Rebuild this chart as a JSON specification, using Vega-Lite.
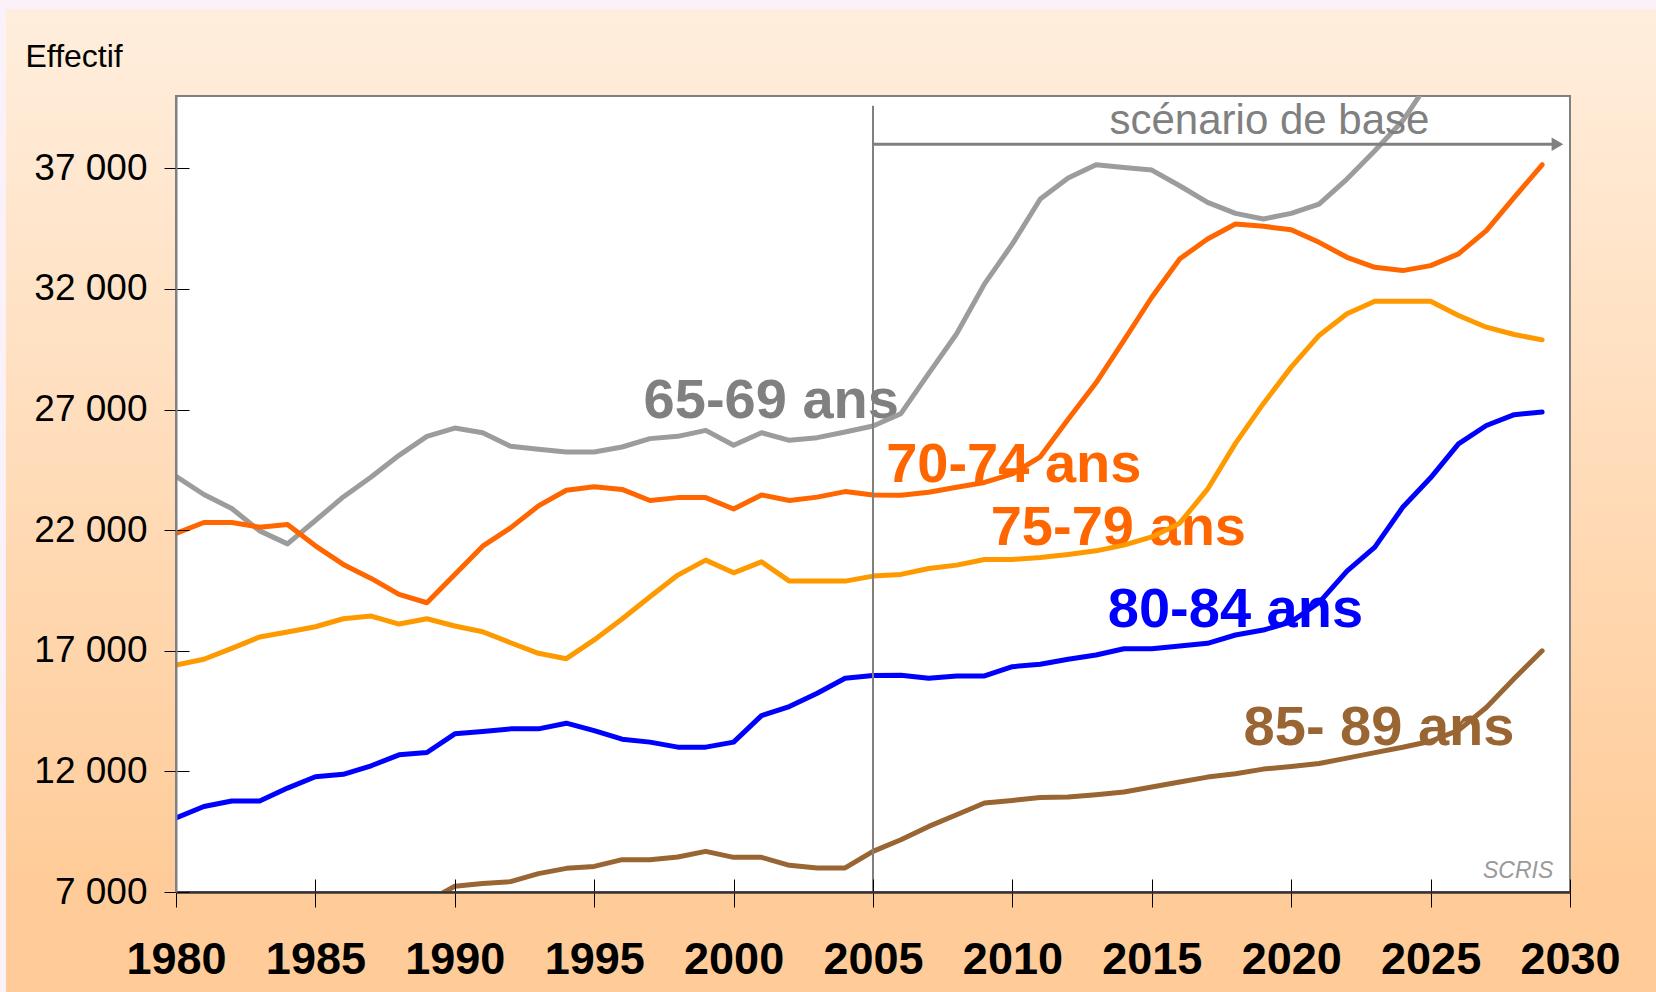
{
  "$schema": "https://vega.github.io/schema/vega-lite/v6.json",
  "autosize": {"type": "none"},
  "width": 1394,
  "height": 796,
  "padding": {"left": 176, "top": 96, "right": 86, "bottom": 100},
  "background": "#FAF2F8",
  "datasets": {
    "series": [
      {"group": "65-69 ans", "year": 1980, "value": 24235},
      {"group": "65-69 ans", "year": 1981, "value": 23478},
      {"group": "65-69 ans", "year": 1982, "value": 22898},
      {"group": "65-69 ans", "year": 1983, "value": 21971},
      {"group": "65-69 ans", "year": 1984, "value": 21433},
      {"group": "65-69 ans", "year": 1985, "value": 22400},
      {"group": "65-69 ans", "year": 1986, "value": 23378},
      {"group": "65-69 ans", "year": 1987, "value": 24206},
      {"group": "65-69 ans", "year": 1988, "value": 25104},
      {"group": "65-69 ans", "year": 1989, "value": 25891},
      {"group": "65-69 ans", "year": 1990, "value": 26235},
      {"group": "65-69 ans", "year": 1991, "value": 26043},
      {"group": "65-69 ans", "year": 1992, "value": 25478},
      {"group": "65-69 ans", "year": 1993, "value": 25352},
      {"group": "65-69 ans", "year": 1994, "value": 25241},
      {"group": "65-69 ans", "year": 1995, "value": 25241},
      {"group": "65-69 ans", "year": 1996, "value": 25448},
      {"group": "65-69 ans", "year": 1997, "value": 25796},
      {"group": "65-69 ans", "year": 1998, "value": 25890},
      {"group": "65-69 ans", "year": 1999, "value": 26139},
      {"group": "65-69 ans", "year": 2000, "value": 25518},
      {"group": "65-69 ans", "year": 2001, "value": 26043},
      {"group": "65-69 ans", "year": 2002, "value": 25725},
      {"group": "65-69 ans", "year": 2003, "value": 25836},
      {"group": "65-69 ans", "year": 2004, "value": 26069},
      {"group": "65-69 ans", "year": 2005, "value": 26317},
      {"group": "65-69 ans", "year": 2006, "value": 26830},
      {"group": "65-69 ans", "year": 2007, "value": 28500},
      {"group": "65-69 ans", "year": 2008, "value": 30142},
      {"group": "65-69 ans", "year": 2009, "value": 32211},
      {"group": "65-69 ans", "year": 2010, "value": 33867},
      {"group": "65-69 ans", "year": 2011, "value": 35729},
      {"group": "65-69 ans", "year": 2012, "value": 36598},
      {"group": "65-69 ans", "year": 2013, "value": 37149},
      {"group": "65-69 ans", "year": 2014, "value": 37038},
      {"group": "65-69 ans", "year": 2015, "value": 36929},
      {"group": "65-69 ans", "year": 2016, "value": 36280},
      {"group": "65-69 ans", "year": 2017, "value": 35589},
      {"group": "65-69 ans", "year": 2018, "value": 35133},
      {"group": "65-69 ans", "year": 2019, "value": 34901},
      {"group": "65-69 ans", "year": 2020, "value": 35133},
      {"group": "65-69 ans", "year": 2021, "value": 35522},
      {"group": "65-69 ans", "year": 2022, "value": 36557},
      {"group": "65-69 ans", "year": 2023, "value": 37729},
      {"group": "65-69 ans", "year": 2024, "value": 38971},
      {"group": "65-69 ans", "year": 2025, "value": 40700},
      {"group": "70-74 ans", "year": 1980, "value": 21863},
      {"group": "70-74 ans", "year": 1981, "value": 22318},
      {"group": "70-74 ans", "year": 1982, "value": 22318},
      {"group": "70-74 ans", "year": 1983, "value": 22124},
      {"group": "70-74 ans", "year": 1984, "value": 22236},
      {"group": "70-74 ans", "year": 1985, "value": 21351},
      {"group": "70-74 ans", "year": 1986, "value": 20580},
      {"group": "70-74 ans", "year": 1987, "value": 20000},
      {"group": "70-74 ans", "year": 1988, "value": 19338},
      {"group": "70-74 ans", "year": 1989, "value": 18991},
      {"group": "70-74 ans", "year": 1990, "value": 20166},
      {"group": "70-74 ans", "year": 1991, "value": 21338},
      {"group": "70-74 ans", "year": 1992, "value": 22096},
      {"group": "70-74 ans", "year": 1993, "value": 23006},
      {"group": "70-74 ans", "year": 1994, "value": 23655},
      {"group": "70-74 ans", "year": 1995, "value": 23800},
      {"group": "70-74 ans", "year": 1996, "value": 23690},
      {"group": "70-74 ans", "year": 1997, "value": 23230},
      {"group": "70-74 ans", "year": 1998, "value": 23350},
      {"group": "70-74 ans", "year": 1999, "value": 23350},
      {"group": "70-74 ans", "year": 2000, "value": 22880},
      {"group": "70-74 ans", "year": 2001, "value": 23460},
      {"group": "70-74 ans", "year": 2002, "value": 23230},
      {"group": "70-74 ans", "year": 2003, "value": 23370},
      {"group": "70-74 ans", "year": 2004, "value": 23600},
      {"group": "70-74 ans", "year": 2005, "value": 23460},
      {"group": "70-74 ans", "year": 2006, "value": 23450},
      {"group": "70-74 ans", "year": 2007, "value": 23570},
      {"group": "70-74 ans", "year": 2008, "value": 23780},
      {"group": "70-74 ans", "year": 2009, "value": 23980},
      {"group": "70-74 ans", "year": 2010, "value": 24330},
      {"group": "70-74 ans", "year": 2011, "value": 25040},
      {"group": "70-74 ans", "year": 2012, "value": 26600},
      {"group": "70-74 ans", "year": 2013, "value": 28110},
      {"group": "70-74 ans", "year": 2014, "value": 29864},
      {"group": "70-74 ans", "year": 2015, "value": 31657},
      {"group": "70-74 ans", "year": 2016, "value": 33246},
      {"group": "70-74 ans", "year": 2017, "value": 34074},
      {"group": "70-74 ans", "year": 2018, "value": 34694},
      {"group": "70-74 ans", "year": 2019, "value": 34596},
      {"group": "70-74 ans", "year": 2020, "value": 34458},
      {"group": "70-74 ans", "year": 2021, "value": 33933},
      {"group": "70-74 ans", "year": 2022, "value": 33312},
      {"group": "70-74 ans", "year": 2023, "value": 32898},
      {"group": "70-74 ans", "year": 2024, "value": 32762},
      {"group": "70-74 ans", "year": 2025, "value": 32969},
      {"group": "70-74 ans", "year": 2026, "value": 33453},
      {"group": "70-74 ans", "year": 2027, "value": 34417},
      {"group": "70-74 ans", "year": 2028, "value": 35796},
      {"group": "70-74 ans", "year": 2029, "value": 37149},
      {"group": "75-79 ans", "year": 1980, "value": 16412},
      {"group": "75-79 ans", "year": 1981, "value": 16648},
      {"group": "75-79 ans", "year": 1982, "value": 17103},
      {"group": "75-79 ans", "year": 1983, "value": 17571},
      {"group": "75-79 ans", "year": 1984, "value": 17778},
      {"group": "75-79 ans", "year": 1985, "value": 17997},
      {"group": "75-79 ans", "year": 1986, "value": 18329},
      {"group": "75-79 ans", "year": 1987, "value": 18440},
      {"group": "75-79 ans", "year": 1988, "value": 18109},
      {"group": "75-79 ans", "year": 1989, "value": 18329},
      {"group": "75-79 ans", "year": 1990, "value": 18026},
      {"group": "75-79 ans", "year": 1991, "value": 17791},
      {"group": "75-79 ans", "year": 1992, "value": 17335},
      {"group": "75-79 ans", "year": 1993, "value": 16896},
      {"group": "75-79 ans", "year": 1994, "value": 16673},
      {"group": "75-79 ans", "year": 1995, "value": 17450},
      {"group": "75-79 ans", "year": 1996, "value": 18320},
      {"group": "75-79 ans", "year": 1997, "value": 19239},
      {"group": "75-79 ans", "year": 1998, "value": 20138},
      {"group": "75-79 ans", "year": 1999, "value": 20758},
      {"group": "75-79 ans", "year": 2000, "value": 20233},
      {"group": "75-79 ans", "year": 2001, "value": 20688},
      {"group": "75-79 ans", "year": 2002, "value": 19889},
      {"group": "75-79 ans", "year": 2003, "value": 19889},
      {"group": "75-79 ans", "year": 2004, "value": 19889},
      {"group": "75-79 ans", "year": 2005, "value": 20096},
      {"group": "75-79 ans", "year": 2006, "value": 20166},
      {"group": "75-79 ans", "year": 2007, "value": 20414},
      {"group": "75-79 ans", "year": 2008, "value": 20551},
      {"group": "75-79 ans", "year": 2009, "value": 20787},
      {"group": "75-79 ans", "year": 2010, "value": 20787},
      {"group": "75-79 ans", "year": 2011, "value": 20870},
      {"group": "75-79 ans", "year": 2012, "value": 20994},
      {"group": "75-79 ans", "year": 2013, "value": 21143},
      {"group": "75-79 ans", "year": 2014, "value": 21379},
      {"group": "75-79 ans", "year": 2015, "value": 21722},
      {"group": "75-79 ans", "year": 2016, "value": 22290},
      {"group": "75-79 ans", "year": 2017, "value": 23700},
      {"group": "75-79 ans", "year": 2018, "value": 25600},
      {"group": "75-79 ans", "year": 2019, "value": 27245},
      {"group": "75-79 ans", "year": 2020, "value": 28760},
      {"group": "75-79 ans", "year": 2021, "value": 30073},
      {"group": "75-79 ans", "year": 2022, "value": 30969},
      {"group": "75-79 ans", "year": 2023, "value": 31490},
      {"group": "75-79 ans", "year": 2024, "value": 31490},
      {"group": "75-79 ans", "year": 2025, "value": 31490},
      {"group": "75-79 ans", "year": 2026, "value": 30900},
      {"group": "75-79 ans", "year": 2027, "value": 30415},
      {"group": "75-79 ans", "year": 2028, "value": 30112},
      {"group": "75-79 ans", "year": 2029, "value": 29891},
      {"group": "80-84 ans", "year": 1980, "value": 10067},
      {"group": "80-84 ans", "year": 1981, "value": 10547},
      {"group": "80-84 ans", "year": 1982, "value": 10771},
      {"group": "80-84 ans", "year": 1983, "value": 10771},
      {"group": "80-84 ans", "year": 1984, "value": 11309},
      {"group": "80-84 ans", "year": 1985, "value": 11780},
      {"group": "80-84 ans", "year": 1986, "value": 11880},
      {"group": "80-84 ans", "year": 1987, "value": 12232},
      {"group": "80-84 ans", "year": 1988, "value": 12687},
      {"group": "80-84 ans", "year": 1989, "value": 12783},
      {"group": "80-84 ans", "year": 1990, "value": 13556},
      {"group": "80-84 ans", "year": 1991, "value": 13652},
      {"group": "80-84 ans", "year": 1992, "value": 13763},
      {"group": "80-84 ans", "year": 1993, "value": 13763},
      {"group": "80-84 ans", "year": 1994, "value": 13999},
      {"group": "80-84 ans", "year": 1995, "value": 13693},
      {"group": "80-84 ans", "year": 1996, "value": 13337},
      {"group": "80-84 ans", "year": 1997, "value": 13213},
      {"group": "80-84 ans", "year": 1998, "value": 13006},
      {"group": "80-84 ans", "year": 1999, "value": 13006},
      {"group": "80-84 ans", "year": 2000, "value": 13213},
      {"group": "80-84 ans", "year": 2001, "value": 14314},
      {"group": "80-84 ans", "year": 2002, "value": 14686},
      {"group": "80-84 ans", "year": 2003, "value": 15241},
      {"group": "80-84 ans", "year": 2004, "value": 15862},
      {"group": "80-84 ans", "year": 2005, "value": 15980},
      {"group": "80-84 ans", "year": 2006, "value": 15990},
      {"group": "80-84 ans", "year": 2007, "value": 15862},
      {"group": "80-84 ans", "year": 2008, "value": 15957},
      {"group": "80-84 ans", "year": 2009, "value": 15957},
      {"group": "80-84 ans", "year": 2010, "value": 16342},
      {"group": "80-84 ans", "year": 2011, "value": 16441},
      {"group": "80-84 ans", "year": 2012, "value": 16648},
      {"group": "80-84 ans", "year": 2013, "value": 16826},
      {"group": "80-84 ans", "year": 2014, "value": 17087},
      {"group": "80-84 ans", "year": 2015, "value": 17087},
      {"group": "80-84 ans", "year": 2016, "value": 17199},
      {"group": "80-84 ans", "year": 2017, "value": 17310},
      {"group": "80-84 ans", "year": 2018, "value": 17654},
      {"group": "80-84 ans", "year": 2019, "value": 17860},
      {"group": "80-84 ans", "year": 2020, "value": 18200},
      {"group": "80-84 ans", "year": 2021, "value": 19000},
      {"group": "80-84 ans", "year": 2022, "value": 20300},
      {"group": "80-84 ans", "year": 2023, "value": 21300},
      {"group": "80-84 ans", "year": 2024, "value": 22950},
      {"group": "80-84 ans", "year": 2025, "value": 24170},
      {"group": "80-84 ans", "year": 2026, "value": 25580},
      {"group": "80-84 ans", "year": 2027, "value": 26340},
      {"group": "80-84 ans", "year": 2028, "value": 26790},
      {"group": "80-84 ans", "year": 2029, "value": 26900},
      {"group": "85- 89 ans", "year": 1989, "value": 6600},
      {"group": "85- 89 ans", "year": 1990, "value": 7236},
      {"group": "85- 89 ans", "year": 1991, "value": 7348},
      {"group": "85- 89 ans", "year": 1992, "value": 7430},
      {"group": "85- 89 ans", "year": 1993, "value": 7761},
      {"group": "85- 89 ans", "year": 1994, "value": 7981},
      {"group": "85- 89 ans", "year": 1995, "value": 8060},
      {"group": "85- 89 ans", "year": 1996, "value": 8341},
      {"group": "85- 89 ans", "year": 1997, "value": 8341},
      {"group": "85- 89 ans", "year": 1998, "value": 8453},
      {"group": "85- 89 ans", "year": 1999, "value": 8685},
      {"group": "85- 89 ans", "year": 2000, "value": 8436},
      {"group": "85- 89 ans", "year": 2001, "value": 8436},
      {"group": "85- 89 ans", "year": 2002, "value": 8105},
      {"group": "85- 89 ans", "year": 2003, "value": 7997},
      {"group": "85- 89 ans", "year": 2004, "value": 7997},
      {"group": "85- 89 ans", "year": 2005, "value": 8685},
      {"group": "85- 89 ans", "year": 2006, "value": 9169},
      {"group": "85- 89 ans", "year": 2007, "value": 9720},
      {"group": "85- 89 ans", "year": 2008, "value": 10203},
      {"group": "85- 89 ans", "year": 2009, "value": 10688},
      {"group": "85- 89 ans", "year": 2010, "value": 10796},
      {"group": "85- 89 ans", "year": 2011, "value": 10920},
      {"group": "85- 89 ans", "year": 2012, "value": 10934},
      {"group": "85- 89 ans", "year": 2013, "value": 11031},
      {"group": "85- 89 ans", "year": 2014, "value": 11143},
      {"group": "85- 89 ans", "year": 2015, "value": 11350},
      {"group": "85- 89 ans", "year": 2016, "value": 11557},
      {"group": "85- 89 ans", "year": 2017, "value": 11764},
      {"group": "85- 89 ans", "year": 2018, "value": 11900},
      {"group": "85- 89 ans", "year": 2019, "value": 12095},
      {"group": "85- 89 ans", "year": 2020, "value": 12203},
      {"group": "85- 89 ans", "year": 2021, "value": 12330},
      {"group": "85- 89 ans", "year": 2022, "value": 12550},
      {"group": "85- 89 ans", "year": 2023, "value": 12780},
      {"group": "85- 89 ans", "year": 2024, "value": 13000},
      {"group": "85- 89 ans", "year": 2025, "value": 13250},
      {"group": "85- 89 ans", "year": 2026, "value": 13700},
      {"group": "85- 89 ans", "year": 2027, "value": 14650},
      {"group": "85- 89 ans", "year": 2028, "value": 15850},
      {"group": "85- 89 ans", "year": 2029, "value": 17000}
    ],
    "labels": [
      {"label": "65-69 ans", "year": 2001.35, "value": 27350},
      {"label": "70-74 ans", "year": 2010.05, "value": 24700},
      {"label": "75-79 ans", "year": 2013.8, "value": 22070},
      {"label": "80-84 ans", "year": 2018.0, "value": 18710},
      {"label": "85- 89 ans", "year": 2023.15, "value": 13810}
    ]
  },
  "resolve": {"axis": {"x": "independent", "y": "independent"}},
  "layer": [
    {
      "data": {"values": [{}]},
      "mark": {
        "type": "rect",
        "fill": {
          "gradient": "linear", "x1": 0, "y1": 0, "x2": 0, "y2": 1,
          "stops": [
            {"offset": 0, "color": "#FFEEDD"},
            {"offset": 0.88, "color": "#FFCC99"},
            {"offset": 1, "color": "#FFCC99"}
          ]
        }
      },
      "encoding": {
        "x": {"datum": 1973.9, "type": "quantitative", "axis": null},
        "x2": {"datum": 2033.3},
        "y": {"datum": 43607, "type": "quantitative", "axis": null},
        "y2": {"datum": 2700}
      }
    },
    {
      "data": {"values": [{}]},
      "mark": {"type": "rect", "fill": "#FFFFFF", "stroke": "#808080", "strokeWidth": 2},
      "encoding": {
        "x": {"datum": 1980, "type": "quantitative", "axis": null},
        "x2": {"datum": 2030},
        "y": {"datum": 7000, "type": "quantitative", "axis": null},
        "y2": {"datum": 40000}
      }
    },
    {
      "data": {"name": "labels"},
      "mark": {"type": "text", "font": "Liberation Sans", "fontWeight": "bold", "fontSize": 56, "align": "center", "baseline": "middle"},
      "encoding": {
        "x": {
          "field": "year", "type": "quantitative",
          "scale": {"domain": [1980, 2030], "nice": false, "zero": false},
          "axis": {"orient": "bottom", "values": [1980, 1985, 1990, 1995, 2000, 2005, 2010, 2015, 2020, 2025, 2030], "tickSize": -13, "tickColor": "#000000", "tickWidth": 1, "labels": false, "domain": false, "grid": false, "title": null, "zindex": 1}
        },
        "y": {
          "field": "value", "type": "quantitative",
          "scale": {"domain": [7000, 40000], "nice": false, "zero": false},
          "axis": {"orient": "left", "values": [7000, 12000, 17000, 22000, 27000, 32000, 37000], "tickSize": -13, "tickColor": "#000000", "tickWidth": 1, "labels": false, "domain": false, "grid": false, "title": null, "zindex": 1}
        },
        "text": {"field": "label"},
        "color": {
          "field": "label", "type": "nominal",
          "scale": {"domain": ["65-69 ans", "70-74 ans", "75-79 ans", "80-84 ans", "85- 89 ans"], "range": ["#808080", "#FF6600", "#FF6600", "#0000FF", "#996633"]},
          "legend": null
        }
      }
    },
    {
      "data": {"name": "series"},
      "mark": {"type": "line", "clip": true, "strokeJoin": "round", "strokeCap": "round"},
      "encoding": {
        "x": {
          "field": "year", "type": "quantitative",
          "axis": {
            "orient": "bottom",
            "values": [1980, 1985, 1990, 1995, 2000, 2005, 2010, 2015, 2020, 2025, 2030],
            "format": "d",
            "tickSize": 15, "tickColor": "#000000", "tickWidth": 1,
            "labelFont": "Liberation Sans", "labelFontWeight": "bold", "labelFontSize": 45, "labelColor": "#000000",
            "labelBaseline": "middle", "labelPadding": 52, "labelFlush": false, "labelOverlap": false,
            "domainColor": "#333333", "domainWidth": 2.5,
            "grid": false, "title": null, "zindex": 1
          }
        },
        "y": {
          "field": "value", "type": "quantitative",
          "axis": {
            "orient": "left",
            "values": [7000, 12000, 17000, 22000, 27000, 32000, 37000],
            "labelExpr": "replace(format(datum.value, ','), ',', ' ')",
            "tickSize": 12, "tickColor": "#000000", "tickWidth": 1,
            "labelFont": "Liberation Sans", "labelFontSize": 37, "labelColor": "#000000",
            "labelPadding": 17, "labelFlush": false, "labelOverlap": false,
            "domainColor": "#808080", "domainWidth": 2,
            "grid": false,
            "title": "Effectif", "titleFont": "Liberation Sans", "titleFontSize": 32, "titleFontWeight": "normal", "titleColor": "#000000",
            "titleAngle": 0, "titleAlign": "left", "titleBaseline": "middle", "titleX": -151, "titleY": -40,
            "zindex": 1
          }
        },
        "detail": {"field": "group"},
        "stroke": {
          "field": "group", "type": "nominal",
          "scale": {"domain": ["65-69 ans", "70-74 ans", "75-79 ans", "80-84 ans", "85- 89 ans"], "range": ["#9C9C9C", "#FF6600", "#FF9900", "#0000FF", "#996633"]},
          "legend": null
        },
        "strokeWidth": {
          "field": "group", "type": "nominal",
          "scale": {"domain": ["65-69 ans", "70-74 ans", "75-79 ans", "80-84 ans", "85- 89 ans"], "range": [5, 5, 5, 6, 5]},
          "legend": null
        }
      }
    },
    {
      "data": {"values": [{}]},
      "mark": {"type": "rule", "stroke": "#808080", "strokeWidth": 2},
      "encoding": {
        "x": {"datum": 2005, "type": "quantitative", "axis": null},
        "y": {"datum": 7000, "type": "quantitative", "axis": null},
        "y2": {"datum": 39600}
      }
    },
    {
      "data": {"values": [{}]},
      "mark": {"type": "rule", "stroke": "#808080", "strokeWidth": 3},
      "encoding": {
        "x": {"datum": 2005, "type": "quantitative", "axis": null},
        "x2": {"datum": 2029.5},
        "y": {"datum": 38000, "type": "quantitative", "axis": null}
      }
    },
    {
      "data": {"values": [{}]},
      "mark": {"type": "point", "shape": "triangle-right", "filled": true, "fill": "#808080", "stroke": null, "size": 180, "opacity": 1},
      "encoding": {
        "x": {"datum": 2029.55, "type": "quantitative", "axis": null},
        "y": {"datum": 38000, "type": "quantitative", "axis": null}
      }
    },
    {
      "data": {"values": [{}]},
      "mark": {"type": "text", "text": "scénario de base", "font": "Liberation Sans", "fontSize": 42, "fill": "#808080", "align": "center", "baseline": "middle"},
      "encoding": {
        "x": {"datum": 2019.22, "type": "quantitative", "axis": null},
        "y": {"datum": 38950, "type": "quantitative", "axis": null}
      }
    },
    {
      "data": {"values": [{}]},
      "mark": {"type": "text", "text": "SCRIS", "font": "Liberation Sans", "fontStyle": "italic", "fontSize": 23, "fill": "#9A9A9A", "align": "right", "baseline": "middle"},
      "encoding": {
        "x": {"datum": 2029.4, "type": "quantitative", "axis": null},
        "y": {"datum": 7860, "type": "quantitative", "axis": null}
      }
    }
  ],
  "config": {
    "view": {"stroke": null},
    "font": "Liberation Sans"
  }
}
